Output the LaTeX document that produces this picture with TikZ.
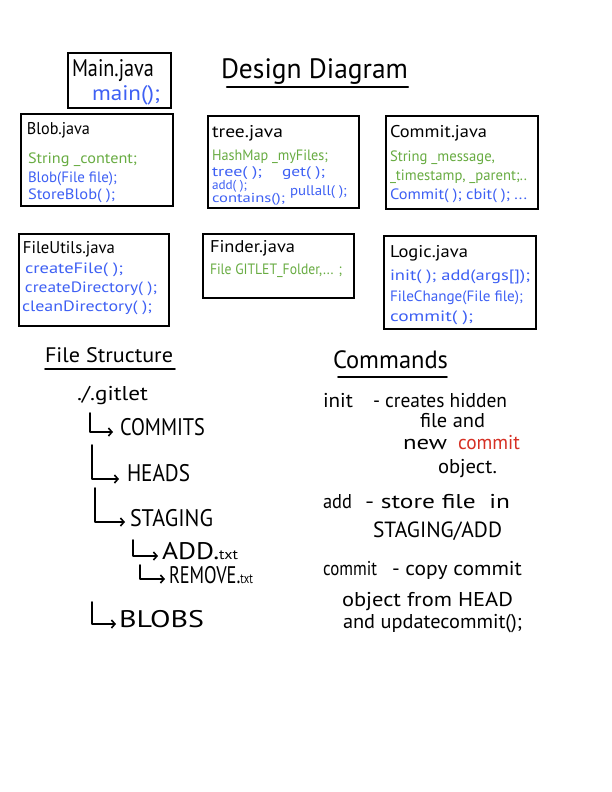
\documentclass[tikz,border=0pt]{standalone}
\usepackage{fontspec}
\setmainfont{PT Sans}
\usetikzlibrary{arrows.meta}
\definecolor{hgreen}{RGB}{104,172,66}
\definecolor{hblue}{RGB}{62,96,244}
\definecolor{hred}{RGB}{214,48,36}
\newcommand{\fitw}[2]{\resizebox{#1pt}{\height}{#2}}
\tikzset{
 cls/.style={draw=black, line width=1.8pt, anchor=north west, inner sep=0pt},
 t/.style={anchor=base west, inner sep=0pt, outer sep=0pt},
 ttl/.style={t, font=\fontsize{17}{20}\selectfont},
 gr/.style={t, text=hgreen, font=\fontsize{15}{18}\selectfont},
 bl/.style={t, text=hblue, font=\fontsize{15}{18}\selectfont},
 hw/.style={t, font=\fontsize{20}{23}\selectfont},
 capt/.style={t, font=\fontsize{24}{27}\selectfont},
 uline/.style={line width=2.4pt, line cap=round},
 larrow/.style={line width=1.8pt, line cap=round, line join=round, -{Straight Barb[length=3.5pt,width=8pt,line width=1.6pt]}},
}
\begin{document}
\begin{tikzpicture}[x=1pt,y=-1pt]
\useasboundingbox (0,0) rectangle (612,792);
\fill[white] (0,0) rectangle (612,792);

% ---------- title ----------
\node[t, font=\fontsize{28}{32}\selectfont] (title) at (221,78) {\fitw{187}{Design Diagram}};
\coordinate (tu1) at (227,87); \coordinate (tu2) at (408,87);
\draw[uline] (tu1) -- (tu2);

% ---------- Main ----------
\node[cls, minimum width=103pt, minimum height=55pt] (mainbox) at (67,52) {};
\node[t, font=\fontsize{24}{28}\selectfont] (mainT) at (72,77) {\fitw{82}{Main.java}};
\node[bl, font=\fontsize{21}{24}\selectfont] (mainM) at (92,100) {\fitw{68}{main();}};

% ---------- Blob ----------
\node[cls, minimum width=152pt, minimum height=92pt] (blobbox) at (20,113) {};
\node[ttl] (blobT) at (27,134) {\fitw{63}{Blob.java}};
\node[gr] (blob1) at (28,163) {\fitw{109}{String \_content;}};
\node[bl] (blob2) at (28,182) {\fitw{89}{Blob(File file);}};
\node[bl] (blob3) at (28,199) {\fitw{87}{StoreBlob( );}};

% ---------- tree ----------
\node[cls, minimum width=151pt, minimum height=92pt] (treebox) at (207,115) {};
\node[ttl] (treeT) at (212,137) {\fitw{71}{tree.java}};
\node[gr] (tree1) at (212,160) {\fitw{116}{HashMap \_myFiles;}};
\node[bl, font=\fontsize{14}{16}\selectfont] (tree2) at (212,176) {\fitw{50}{tree( );}};
\node[bl, font=\fontsize{14}{16}\selectfont] (tree3) at (282,176) {\fitw{43}{get( );}};
\node[bl, font=\fontsize{13}{15}\selectfont] (tree4) at (212,189) {\fitw{35}{add( );}};
\node[bl, font=\fontsize{14}{16}\selectfont] (tree5) at (290,195) {\fitw{57}{pullall( );}};
\node[bl, font=\fontsize{13}{15}\selectfont] (tree6) at (212,202) {\fitw{73}{contains();}};

% ---------- Commit ----------
\node[cls, minimum width=152pt, minimum height=93pt] (commitbox) at (385,115) {};
\node[ttl] (commitT) at (390,137) {\fitw{97}{Commit.java}};
\node[gr] (commit1) at (390,161) {\fitw{105}{String \_message,}};
\node[gr] (commit2) at (390,180) {\fitw{137}{\_timestamp, \_parent;..}};
\node[bl] (commit3) at (390,199) {\fitw{137}{Commit( ); cbit( ); ...}};

% ---------- FileUtils ----------
\node[cls, minimum width=150pt, minimum height=92pt] (fubox) at (18,233) {};
\node[ttl] (fuT) at (23,253) {\fitw{92}{FileUtils.java}};
\node[bl] (fu1) at (25,273) {\fitw{98}{createFile( );}};
\node[bl] (fu2) at (25,292) {\fitw{132}{createDirectory( );}};
\node[bl] (fu3) at (22,311) {\fitw{130}{cleanDirectory( );}};

% ---------- Finder ----------
\node[cls, minimum width=151pt, minimum height=64pt] (finderbox) at (202,233) {};
\node[ttl] (finderT) at (210,252) {\fitw{85}{Finder.java}};
\node[gr] (finder1) at (210,274) {\fitw{132}{File GITLET\_Folder,... ;}};

% ---------- Logic ----------
\node[cls, minimum width=152pt, minimum height=93pt] (logicbox) at (383,235) {};
\node[ttl] (logicT) at (390,257) {\fitw{78}{Logic.java}};
\node[bl] (logic1) at (390,280) {\fitw{140}{init( ); add(args[]);}};
\node[bl] (logic2) at (390,301) {\fitw{133}{FileChange(File file);}};
\node[bl] (logic3) at (390,321) {\fitw{83}{commit( );}};

% ---------- File Structure ----------
\node[hw, font=\fontsize{21}{24}\selectfont] (fsT) at (45,362) {\fitw{128}{File Structure}};
\coordinate (fu1a) at (45,369); \coordinate (fu1b) at (175,369);
\draw[uline, line width=1.8pt] (fu1a) -- (fu1b);
\node[hw] (root) at (77,400) {\fitw{71}{./.gitlet}};
\node[capt] (dCommits) at (120,435) {\fitw{85}{COMMITS}};
\node[capt] (dHeads) at (127,481) {\fitw{63}{HEADS}};
\node[capt] (dStaging) at (130,526) {\fitw{83}{STAGING}};
\node[capt] (dAdd) at (162,559) {\fitw{76}{ADD.{\fontsize{14}{16}\selectfont txt}}};
\node[capt] (dRemove) at (169,583) {\fitw{84}{REMOVE.{\fontsize{14}{16}\selectfont txt}}};
\node[capt] (dBlobs) at (119,627) {\fitw{85}{BLOBS}};

\coordinate (a1s) at (90,413);  \coordinate (a1e) at (113,432);
\coordinate (a2s) at (92,445);  \coordinate (a2e) at (119,479);
\coordinate (a3s) at (95,488);  \coordinate (a3e) at (125,522);
\coordinate (a4s) at (133,540); \coordinate (a4e) at (158,556);
\coordinate (a5s) at (140,565); \coordinate (a5e) at (165,579);
\coordinate (a6s) at (92,602);  \coordinate (a6e) at (116,624);
\draw[larrow] (a1s) |- (a1e);
\draw[larrow] (a2s) |- (a2e);
\draw[larrow] (a3s) |- (a3e);
\draw[larrow] (a4s) |- (a4e);
\draw[larrow] (a5s) |- (a5e);
\draw[larrow] (a6s) |- (a6e);

% ---------- Commands ----------
\node[hw, font=\fontsize{25}{29}\selectfont] (cmT) at (333,368) {\fitw{115}{Commands}};
\coordinate (cu1) at (338,377); \coordinate (cu2) at (447,377);
\draw[uline, line width=1.8pt] (cu1) -- (cu2);

\node[hw] (c1a) at (323,407) {\fitw{30}{init}};
\node[hw] (c1b) at (373,407) {\fitw{134}{- creates hidden}};
\node[hw] (c1c) at (420,427) {\fitw{65}{file and}};
\node[hw] (c1d) at (403,449) {\fitw{44}{new}};
\node[hw, text=hred] (c1e) at (458,449) {\fitw{62}{commit}};
\node[hw] (c1f) at (438,473) {\fitw{59}{object.}};

\node[hw] (c2a) at (323,508) {\fitw{29}{add}};
\node[hw] (c2b) at (365,508) {\fitw{145}{- store file \ in}};
\node[hw, font=\fontsize{22}{25}\selectfont] (c2c) at (373,537) {\fitw{129}{STAGING/ADD}};

\node[hw] (c3a) at (323,575) {\fitw{54}{commit}};
\node[hw] (c3b) at (392,575) {\fitw{130}{- copy commit}};
\node[hw] (c3c) at (342,606) {\fitw{171}{object from HEAD}};
\node[hw] (c3d) at (343,628) {\fitw{179}{and updatecommit();}};
\end{tikzpicture}
\end{document}
